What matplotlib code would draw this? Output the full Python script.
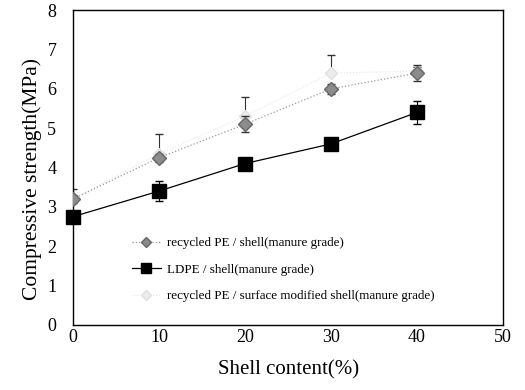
import numpy as np
import matplotlib.pyplot as plt
from matplotlib.lines import Line2D

plt.rcParams['font.family'] = ['Liberation Serif', 'DejaVu Serif']

shell = np.array([0, 10, 20, 30, 40])

recycled = np.array([3.2, 4.25, 5.1, 6.0, 6.4])
recycled_err = np.array([0.1, 0.1, 0.2, 0.12, 0.2])

ldpe = np.array([2.75, 3.4, 4.1, 4.6, 5.4])
ldpe_err = np.array([0.1, 0.25, 0.1, 0.12, 0.3])

modified = np.array([3.2, 4.35, 5.3, 6.4, 6.45])
modified_up = np.array([0.25, 0.5, 0.5, 0.45, 0.1])

labels = ['recycled PE / shell(manure grade)',
          'LDPE / shell(manure grade)',
          'recycled PE / surface modified shell(manure grade)']

fig, ax = plt.subplots(figsize=(5.25, 3.9), dpi=100)
fig.subplots_adjust(left=0.139, right=0.958, bottom=0.167, top=0.974)

# surface modified series is printed very faintly
ax.errorbar(shell, modified, yerr=[np.zeros(5), modified_up], color='#e6e6e6',
            ecolor='#333333', elinewidth=0.8, capsize=3, linestyle=':', linewidth=0.8,
            marker='D', markersize=6, markerfacecolor='#ececec', markeredgecolor='#e0e0e0',
            zorder=2)
ax.errorbar(shell, recycled, yerr=recycled_err, color='#999999', ecolor='#333333',
            elinewidth=0.8, capsize=3, linestyle=':', linewidth=0.9,
            marker='D', markersize=7, markerfacecolor='#8c8c8c', markeredgecolor='#666666',
            zorder=3)
ax.errorbar(shell, ldpe, yerr=ldpe_err, color='black', ecolor='black',
            elinewidth=0.8, capsize=3, linestyle='-', linewidth=0.9,
            marker='s', markersize=10, markerfacecolor='black', markeredgecolor='black',
            zorder=4, clip_on=False)

ax.set_xlim(0, 50)
ax.set_ylim(0, 8)
ax.set_xticks(np.arange(0, 51, 10))
ax.set_yticks(np.arange(0, 9, 1))
ax.tick_params(labelsize=13, length=0)
ax.tick_params(axis='x', pad=3)
ax.tick_params(axis='y', pad=12)
ax.set_xlabel('Shell content(%)', fontsize=15)
ax.set_ylabel('Compressive strength(MPa)', fontsize=15.5)
ax.xaxis.set_label_coords(0.502, -0.112)
ax.yaxis.set_label_coords(-0.072, 0.463)

handles = [
    Line2D([], [], color='#999999', linestyle=':', linewidth=0.9, marker='D',
           markersize=5, markerfacecolor='#8c8c8c', markeredgecolor='#666666'),
    Line2D([], [], color='black', linestyle='-', linewidth=0.9, marker='s',
           markersize=7, markerfacecolor='black'),
    Line2D([], [], color='#e6e6e6', linestyle=':', linewidth=0.8, marker='D',
           markersize=5, markerfacecolor='#ececec', markeredgecolor='#e0e0e0'),
]
ax.legend(handles, labels, loc='center left', bbox_to_anchor=(0.11, 0.175),
          frameon=False, fontsize=9.4, labelspacing=1.1, handlelength=2.2,
          handletextpad=0.5)

for s in ax.spines.values():
    s.set_linewidth(1.0)

plt.savefig('out.png')
